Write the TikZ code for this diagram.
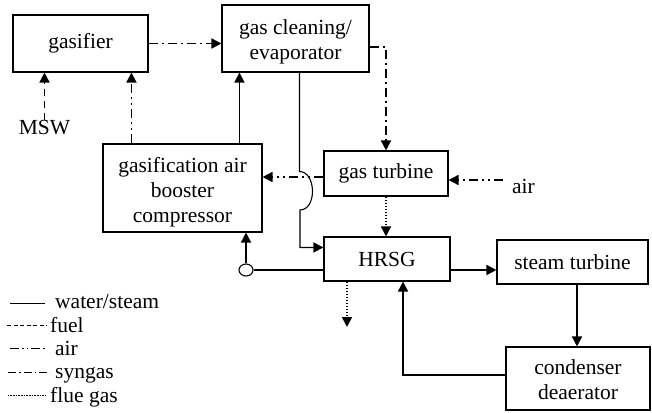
\documentclass[tikz,border=0pt]{standalone}
\usepackage{fontspec}
\setmainfont{Liberation Serif}
\usetikzlibrary{arrows.meta,shapes.geometric}
\begin{document}
\begin{tikzpicture}[x=1pt,y=-1pt,
  font=\fontsize{21.5}{25}\selectfont,
  box/.style={draw,line width=1.1pt,rectangle,align=center,inner sep=0pt},
  txt/.style={align=center,inner sep=0pt},
  conn/.style={line width=1.6pt,-{Triangle[length=10pt,width=10pt]}},
  water/.style={conn},
  fuelln/.style={conn,dash pattern=on 7pt off 5pt},
  airln/.style={conn,dash pattern=on 9pt off 4pt on 2pt off 4pt on 2pt off 4pt},
  synln/.style={conn,dash pattern=on 9pt off 4pt on 2pt off 4pt},
  flueln/.style={conn,dash pattern=on 1.5pt off 1.5pt},
  leg/.style={line width=0.9pt},
  lt/.style={anchor=base west,inner sep=0pt}]
\useasboundingbox (0,0) rectangle (652,412);
% boxes
\node[box,minimum width=135pt,minimum height=57pt] (gasifier) at (80.5,43.5) {gasifier};
\node[box,minimum width=147pt,minimum height=67pt] (gascl) at (295.5,38.5) {};
\node[txt] (gasclt) at (295.5,41.5) {gas cleaning/\\evaporator};
\node[box,minimum width=124pt,minimum height=45pt] (gt) at (386,173.5) {gas turbine};
\node[box,minimum width=159pt,minimum height=88pt] (comp) at (182.5,188) {};
\node[txt] (compt) at (182.5,192) {gasification air\\booster\\compressor};
\node[box,minimum width=126pt,minimum height=44pt] (hrsg) at (387,259) {HRSG};
\node[box,minimum width=151pt,minimum height=44pt] (st) at (572.5,262) {steam turbine};
\node[box,minimum width=144pt,minimum height=63pt] (cond) at (578,378.5) {};
\node[txt] (condt) at (578,380) {condenser\\deaerator};
\node[inner sep=0pt] (msw) at (44.5,128) {MSW};
\node[inner sep=0pt,anchor=base] (air) at (523.5,193) {air};
\node[draw,line width=1.1pt,ellipse,minimum width=14pt,minimum height=12pt,inner sep=0pt] (circ) at (246,270) {};
\coordinate (flueout) at (347,327);
% connectors
\draw[synln] (gasifier.east) -- (gasifier.east -| gascl.west);
\draw[fuelln] ([yshift=1pt]msw.north) -- (msw.north |- gasifier.south);
\draw[airln] ([xshift=29pt]comp.north west) -- ([xshift=29pt]comp.north west |- gasifier.south);
\draw[water] ([xshift=137pt]comp.north west) -- ([xshift=137pt]comp.north west |- gascl.south);
\draw[line width=1.1pt,-{Triangle[length=10pt,width=10pt]}] ([xshift=78pt]gascl.south west) -- ++(0,99)
  .. controls ++(17,0) and (317,210) .. (300,210)
  |- ([yshift=-11pt]hrsg.north west);
\draw[airln] ([yshift=-3.5pt]gt.west) -- ([yshift=-3.5pt]gt.west -| comp.east);
\draw[synln] ([yshift=-8.5pt]gascl.east) -| (gt.north);
\draw[airln] ([xshift=-9pt,yshift=-6.5pt]gt.east -| air.west) -- ([yshift=-6.5pt]gt.east);
\draw[flueln] (gt.south) -- (gt.south |- hrsg.north);
\draw[line width=1.1pt] (circ.east) -- (circ.east -| hrsg.west);
\draw[water] (circ.north) -- (circ.north |- comp.south);
\draw[water] ([yshift=-11pt]hrsg.east) -- ([yshift=-11pt]hrsg.east -| st.west);
\draw[water] ([xshift=4.5pt]st.south) -- ([xshift=4.5pt]st.south |- cond.north);
\draw[water] ([yshift=3.5pt]cond.west) -| ([xshift=16pt]hrsg.south);
\draw[flueln] ([xshift=-40pt]hrsg.south) -- (flueout);
% legend
\node[lt] (lw) at (55,308) {water/steam};
\node[lt] (lf) at (50,332) {fuel};
\node[lt] (la) at (55,355) {air};
\node[lt] (ls) at (55,378) {syngas};
\node[lt] (lg) at (50,402) {flue gas};
\draw[leg] ([xshift=-45pt,yshift=5pt]lw.base west) -- ([xshift=-10pt,yshift=5pt]lw.base west);
\draw[leg,dash pattern=on 4pt off 2.5pt] ([xshift=-43pt,yshift=7pt]lf.base west) -- ([xshift=-3pt,yshift=7pt]lf.base west);
\draw[leg,dash pattern=on 9pt off 3pt on 1.5pt off 3pt on 1.5pt off 3pt] ([xshift=-45pt,yshift=7pt]la.base west) -- ([xshift=-10pt,yshift=7pt]la.base west);
\draw[leg,dash pattern=on 8pt off 3pt on 1.5pt off 3pt] ([xshift=-47pt,yshift=6pt]ls.base west) -- ([xshift=-5pt,yshift=6pt]ls.base west);
\draw[leg,dash pattern=on 0.8pt off 0.8pt] ([xshift=-42pt,yshift=7pt]lg.base west) -- ([xshift=-5pt,yshift=7pt]lg.base west);
\end{tikzpicture}
\end{document}
